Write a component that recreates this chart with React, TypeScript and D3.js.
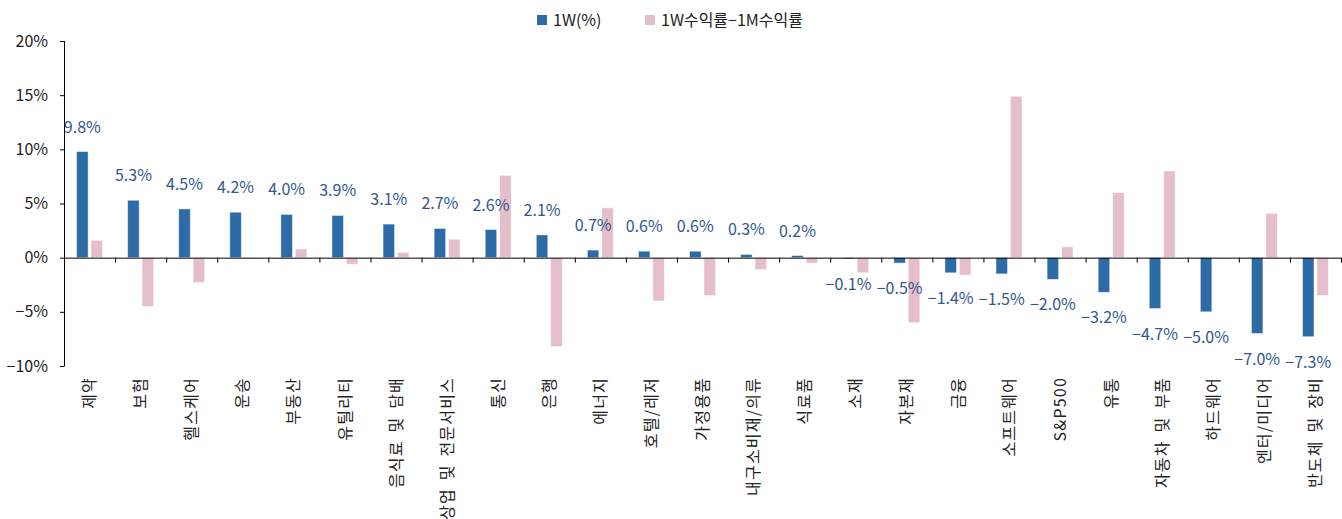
import React from "react";
import * as d3 from "d3";

const categories = [
  "제약", "보험", "헬스케어", "운송", "부동산", "유틸리티", "음식료 및 담배",
  "상업 및 전문서비스", "통신", "은행", "에너지", "호텔/레저", "가정용품",
  "내구소비재/의류", "식료품", "소재", "자본재", "금융", "소프트웨어", "S&P500",
  "유통", "자동차 및 부품", "하드웨어", "엔터/미디어", "반도체 및 장비",
];

// 1W(%)
const weekReturn = [
  9.8, 5.3, 4.5, 4.2, 4.0, 3.9, 3.1, 2.7, 2.6, 2.1, 0.7, 0.6, 0.6, 0.3, 0.2,
  -0.1, -0.5, -1.4, -1.5, -2.0, -3.2, -4.7, -5.0, -7.0, -7.3,
];

// 1W수익률-1M수익률
const weekMinusMonth = [
  1.6, -4.5, -2.3, -0.1, 0.8, -0.6, 0.5, 1.7, 7.6, -8.2, 4.6, -4.0, -3.5,
  -1.1, -0.5, -1.4, -6.0, -1.6, 14.9, 1.0, 6.0, 8.0, 0, 4.1, -3.5,
];

const yTicks = [-10, -5, 0, 5, 10, 15, 20];
const seriesNames = ["1W(%)", "1W수익률−1M수익률"];

const W = 1342;
const H = 519;
const BLUE = "#2D6BA7";
const PINK = "#E5BECB";
const LABEL = "#2F5890";
const FONT = "'Noto Sans CJK KR', 'Noto Sans', sans-serif";

export default function App() {
  const x = d3
    .scaleBand<string>()
    .domain(categories)
    .range([64, 1341])
    .paddingInner(0)
    .paddingOuter(0);
  const sub = d3
    .scaleBand<string>()
    .domain(seriesNames)
    .range([0, x.bandwidth()])
    .paddingInner(0.2)
    .paddingOuter(0.87);
  const y = d3.scaleLinear().domain([-10, 20]).range([366, 41]);
  const y0 = y(0);

  const series = [weekReturn, weekMinusMonth];
  const colors = [BLUE, PINK];

  return (
    <svg
      width={W}
      height={H}
      style={{ position: "absolute", left: 0, top: 0, background: "#fff" }}
      fontFamily={FONT}
    >
      {/* legend */}
      <g>
        <rect x={537} y={15} width={10} height={10} fill={BLUE} />
        <text x={553} y={20} dy="0.35em" fontSize={16} fill="#222">
          {seriesNames[0]}
        </text>
        <rect x={645} y={15} width={10} height={10} fill={PINK} />
        <text x={661} y={20} dy="0.35em" fontSize={16} fill="#222">
          {seriesNames[1]}
        </text>
      </g>

      {/* bars */}
      {series.map((vals, si) => (
        <g key={si}>
          {vals.map((v, i) => {
            const bx = (x(categories[i]) ?? 0) + (sub(seriesNames[si]) ?? 0);
            const top = Math.min(y(v), y0);
            const h = Math.abs(y(v) - y0);
            return (
              <rect
                key={i}
                x={bx}
                y={top}
                width={sub.bandwidth()}
                height={h}
                fill={colors[si]}
                stroke="#ffffff"
                strokeOpacity={0.6}
                strokeWidth={0.8}
              />
            );
          })}
        </g>
      ))}

      {/* data labels for 1W */}
      {weekReturn.map((v, i) => {
        const cx =
          (x(categories[i]) ?? 0) +
          (sub(seriesNames[0]) ?? 0) +
          sub.bandwidth() / 2;
        const ly = v >= 0 ? y(v) - 19 : y(v) + 31;
        return (
          <text
            key={i}
            x={cx}
            y={ly}
            textAnchor="middle"
            fontSize={16}
            fill={LABEL}
          >
            {(v < 0 ? "−" : "") + Math.abs(v).toFixed(1) + "%"}
          </text>
        );
      })}

      {/* y axis */}
      <line x1={64.5} x2={64.5} y1={y(20)} y2={y(-10)} stroke="#000" />
      {yTicks.map((t) => (
        <g key={t}>
          <line x1={60} x2={64.5} y1={y(t) + 0.5} y2={y(t) + 0.5} stroke="#000" />
          <text
            x={48}
            y={y(t)}
            dy="0.35em"
            textAnchor="end"
            fontSize={16}
            fill="#222"
          >
            {(t < 0 ? "−" : "") + Math.abs(t) + "%"}
          </text>
        </g>
      ))}

      {/* x axis at zero */}
      <line x1={64} x2={1341} y1={y0 + 0.5} y2={y0 + 0.5} stroke="#000" />
      {categories.map((c) => (
        <line
          key={c}
          x1={(x(c) ?? 0) + x.bandwidth() + 0.5}
          x2={(x(c) ?? 0) + x.bandwidth() + 0.5}
          y1={y0}
          y2={y0 + 5}
          stroke="#000"
        />
      ))}

      {/* category labels */}
      {categories.map((c) => {
        const cx = (x(c) ?? 0) + x.bandwidth() / 2;
        return (
          <text
            key={c}
            transform={`translate(${cx},377) rotate(-90)`}
            textAnchor="end"
            dy="0.35em"
            fontSize={16}
            letterSpacing={1.2}
            wordSpacing={3}
            fill="#222"
          >
            {c}
          </text>
        );
      })}
    </svg>
  );
}
